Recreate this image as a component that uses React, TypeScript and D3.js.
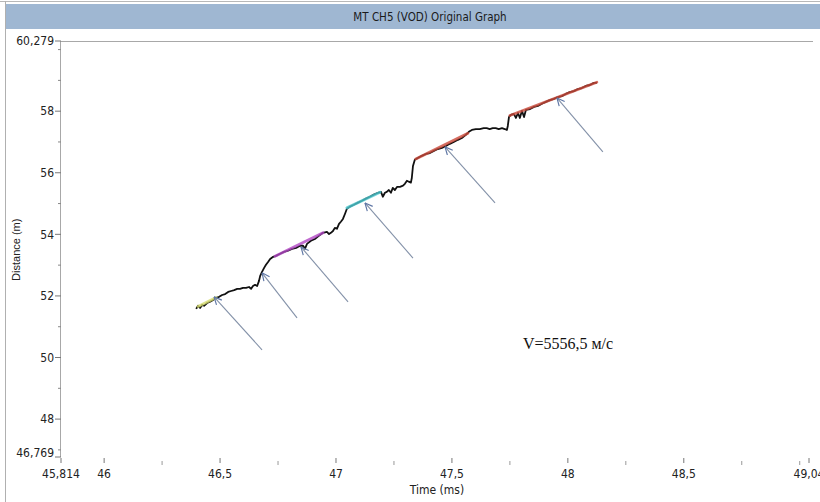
import { useMemo } from 'react'
import * as d3 from 'd3'

// trace: time (ms) vs distance (m)
const timeMs = [
  46.397, 46.405, 46.414, 46.423, 46.431, 46.444, 46.457, 46.47, 46.483, 46.496,
  46.509, 46.522, 46.535, 46.548, 46.561, 46.574, 46.586, 46.599, 46.612, 46.625,
  46.634, 46.642, 46.651, 46.66, 46.668, 46.673, 46.681, 46.69, 46.698, 46.707,
  46.716, 46.729, 46.741, 46.759, 46.776, 46.793, 46.81, 46.828, 46.845, 46.858,
  46.866, 46.875, 46.892, 46.909, 46.926, 46.944, 46.961, 46.97, 46.978, 46.987,
  46.995, 47.004, 47.013, 47.021, 47.03, 47.039, 47.047, 47.06, 47.077, 47.095,
  47.112, 47.129, 47.146, 47.163, 47.181, 47.194, 47.202, 47.211, 47.219, 47.228,
  47.237, 47.245, 47.254, 47.263, 47.276, 47.289, 47.297, 47.306, 47.314, 47.323,
  47.327, 47.332, 47.34, 47.353, 47.37, 47.388, 47.405, 47.422, 47.439, 47.457,
  47.474, 47.491, 47.508, 47.526, 47.543, 47.56, 47.573, 47.586, 47.603, 47.62,
  47.637, 47.65, 47.663, 47.676, 47.689, 47.702, 47.716, 47.728, 47.737, 47.741,
  47.746, 47.754, 47.767, 47.776, 47.785, 47.793, 47.802, 47.811, 47.819, 47.837,
  47.854, 47.871, 47.888, 47.905, 47.922, 47.94, 47.957, 47.974, 47.991, 48.008,
  48.026, 48.043, 48.06, 48.077, 48.095, 48.112, 48.125
]
const distanceM = [
  51.58, 51.68, 51.61, 51.71, 51.68, 51.77, 51.81, 51.87, 51.94, 51.97,
  52.03, 52.06, 52.13, 52.16, 52.19, 52.23, 52.23, 52.26, 52.26, 52.29,
  52.23, 52.32, 52.36, 52.32, 52.49, 52.65, 52.78, 52.91, 53.01, 53.1,
  53.2, 53.27, 53.3, 53.37, 53.43, 53.47, 53.53, 53.56, 53.63, 53.63,
  53.53, 53.69, 53.79, 53.85, 53.95, 54.05, 54.08, 54.01, 54.05, 54.11,
  54.21, 54.18, 54.34, 54.41, 54.5, 54.67, 54.83, 54.9, 54.96, 55.03,
  55.09, 55.16, 55.22, 55.29, 55.35, 55.38, 55.22, 55.35, 55.38, 55.44,
  55.35, 55.51, 55.44, 55.54, 55.54, 55.58, 55.64, 55.74, 55.71, 55.68,
  55.83, 56.22, 56.42, 56.48, 56.55, 56.61, 56.64, 56.71, 56.77, 56.81,
  56.87, 56.94, 57.0, 57.07, 57.13, 57.23, 57.33, 57.39, 57.42, 57.42,
  57.45, 57.45, 57.42, 57.45, 57.45, 57.42, 57.45, 57.42, 57.39, 57.52,
  57.81, 57.88, 57.91, 57.78, 57.94, 57.78, 58.01, 57.81, 58.04, 58.07,
  58.14, 58.17, 58.24, 58.3, 58.36, 58.4, 58.46, 58.49, 58.56, 58.62,
  58.65, 58.72, 58.75, 58.82, 58.85, 58.92, 58.92
]

// linear fit overlays
const fitStartT = [46.405, 46.737, 47.047, 47.344, 47.75]
const fitStartD = [51.66, 53.29, 54.86, 56.45, 57.86]
const fitEndT = [46.483, 46.944, 47.19, 47.569, 48.125]
const fitEndD = [51.95, 54.05, 55.37, 57.28, 58.94]
const fitColors = ['#d6dc6e', '#b247c4', '#4cc8cf', '#c9483a', '#c9483a']

// arrows (head points at the trace)
const arrowHeadT = [46.474, 46.681, 46.849, 47.125, 47.47, 47.953]
const arrowHeadD = [51.97, 52.75, 53.59, 55.02, 56.84, 58.43]
const arrowTailT = [46.681, 46.832, 47.052, 47.332, 47.686, 48.151]
const arrowTailD = [50.25, 51.29, 51.81, 53.23, 55.02, 56.68]

const xMajor = [45.814, 46, 46.5, 47, 47.5, 48, 48.5, 49.04]
const xMinor = [46.25, 46.75, 47.25, 47.75, 48.25, 48.75, 49]
const yMajor = [46.769, 48, 50, 52, 54, 56, 58, 60.279]
const yMinor = [47, 49, 51, 53, 55, 57, 59, 60]

const title = 'MT CH5 (VOD) Original Graph'
const velocityLabel = 'V=5556,5 м/с'

const W = 820
const H = 502
const narrow = '"Liberation Sans Narrow", "DejaVu Sans Condensed", Arial, sans-serif'

const fmt = (v: number) => String(v).replace('.', ',')

export default function App() {
  const x = useMemo(() => d3.scaleLinear().domain([45.814, 49.04]).range([61, 809]), [])
  const y = useMemo(() => d3.scaleLinear().domain([46.769, 60.279]).range([457, 41]), [])

  const line = d3.line<number>()
    .x((_, i) => x(timeMs[i]))
    .y((d) => y(d))

  return (
    <svg width={W} height={H} style={{ position: 'absolute', left: 0, top: 0, background: '#fff' }}>
      <defs>
        <marker id="arrowHead" viewBox="0 0 10 10" refX="9.5" refY="5" markerWidth="9" markerHeight="9"
          markerUnits="userSpaceOnUse" orient="auto">
          <path d="M1,1 L9.5,5 L1,9" fill="none" stroke="#5f77a6" strokeWidth={1.3} />
        </marker>
      </defs>

      {/* frame */}
      <line x1={0} x2={W} y1={1.5} y2={1.5} stroke="#b8b8b8" />
      <line x1={5.5} x2={5.5} y1={1} y2={H} stroke="#b0b0b0" />
      <rect x={6} y={4} width={W - 6} height={25} fill="#9fb7d2" />
      <text x={430} y={21} textAnchor="middle" fontFamily={narrow} fontSize={11.5} fill="#1a1a1a">{title}</text>

      {/* top border + y axis */}
      <line x1={x(45.814)} x2={813} y1={y(60.279) + 0.5} y2={y(60.279) + 0.5} stroke="#a8a8a8" />
      <line x1={x(45.814) - 0.5} x2={x(45.814) - 0.5} y1={y(60.279)} y2={y(46.769)} stroke="#a8a8a8" />

      {yMajor.map((v) => (
        <g key={'ym' + v}>
          <line x1={x(45.814) - 6} x2={x(45.814)} y1={y(v)} y2={y(v)} stroke="#777" />
          <text x={x(45.814) - 7} y={y(v) - (v === 46.769 ? 4 : 0)} dy="0.35em" textAnchor="end" fontFamily={narrow} fontSize={12} fill="#222">{fmt(v)}</text>
        </g>
      ))}
      {yMinor.map((v) => (
        <line key={'yn' + v} x1={x(45.814) - 3} x2={x(45.814)} y1={y(v)} y2={y(v)} stroke="#888" />
      ))}

      {xMajor.map((v) => (
        <g key={'xm' + v}>
          <line x1={x(v)} x2={x(v)} y1={y(46.769) + 1} y2={y(46.769) + 6} stroke="#777" />
          <text x={x(v)} y={478} textAnchor="middle" fontFamily={narrow} fontSize={12} fill="#222">{fmt(v)}</text>
        </g>
      ))}
      {xMinor.map((v) => (
        <line key={'xn' + v} x1={x(v)} x2={x(v)} y1={y(46.769) + 4} y2={y(46.769) + 8} stroke="#999" />
      ))}

      <text x={437} y={494} textAnchor="middle" fontFamily={narrow} fontSize={12} fill="#222">Time (ms)</text>
      <text transform={`translate(20, ${y(53.5)}) rotate(-90)`} textAnchor="middle" fontFamily="'Liberation Sans', Arial, sans-serif" fontSize={11} fill="#222">Distance (m)</text>

      {/* trace */}
      <path d={line(distanceM) ?? ''} fill="none" stroke="#111" strokeWidth={1.8} strokeLinejoin="round" />

      {fitColors.map((c, i) => (
        <line key={'fit' + i} x1={x(fitStartT[i])} y1={y(fitStartD[i])} x2={x(fitEndT[i])} y2={y(fitEndD[i])}
          stroke={c} strokeWidth={2.8} strokeOpacity={0.8} strokeLinecap="round" />
      ))}

      {arrowHeadT.map((t, i) => (
        <line key={'ar' + i} x1={x(arrowTailT[i])} y1={y(arrowTailD[i])} x2={x(t)} y2={y(arrowHeadD[i])}
          stroke="#8391a8" strokeWidth={1.1} markerEnd="url(#arrowHead)" />
      ))}

      <text x={568} y={349} textAnchor="middle" fontFamily="'Liberation Serif', 'Times New Roman', serif" fontSize={16} fill="#111">{velocityLabel}</text>
    </svg>
  )
}
